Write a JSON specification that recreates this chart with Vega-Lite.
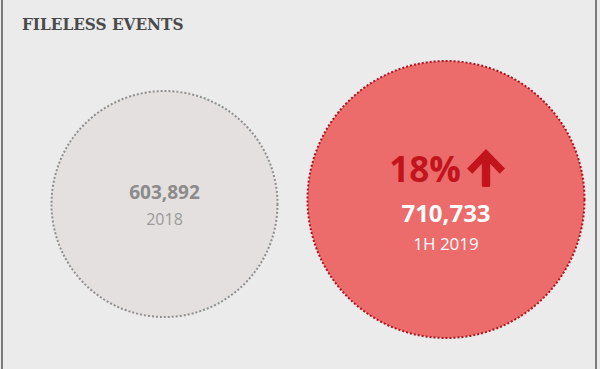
{
  "$schema": "https://vega.github.io/schema/vega-lite/v6.json",
  "width": 600,
  "height": 369,
  "autosize": "none",
  "padding": 0,
  "background": "#ebebeb",
  "config": {"view": {"stroke": null}},
  "title": {
    "text": "FILELESS EVENTS",
    "anchor": "start",
    "orient": "top",
    "frame": "group",
    "offset": -35,
    "dx": 22,
    "font": "DejaVu Serif Condensed, DejaVu Serif",
    "fontSize": 17,
    "fontWeight": "bold",
    "color": "#4a4a4a"
  },
  "layer": [
    {
      "data": {"values": [{"edge": "left"}, {"edge": "right"}]},
      "mark": {"type": "rule", "color": "#7a7a7a", "strokeWidth": 2},
      "encoding": {
        "x": {"field": "edge", "type": "nominal", "scale": {"type": "point", "domain": ["left", "right"], "range": [2, 596], "padding": 0}, "axis": null}
      }
    },
    {
      "data": {"values": [
        {"period": "2018", "value": 603892, "change": null},
        {"period": "1H 2019", "value": 710733, "change": 0.18}
      ]},
      "encoding": {
        "x": {"field": "period", "type": "nominal", "scale": {"type": "point", "domain": ["2018", "1H 2019"], "range": [164.5, 446], "padding": 0}, "axis": null},
        "y": {"field": "period", "type": "nominal", "scale": {"type": "point", "domain": ["2018", "1H 2019"], "range": [204, 199.5], "padding": 0}, "axis": null}
      },
      "layer": [
        {
          "mark": {"type": "point", "shape": "circle", "filled": true, "opacity": 1, "strokeWidth": 2, "strokeDash": [2, 2]},
          "encoding": {
            "size": {"field": "value", "type": "quantitative", "scale": {"domain": [603892, 710733], "range": [51076, 76729], "zero": false}, "legend": null},
            "fill": {"field": "period", "type": "nominal", "scale": {"domain": ["2018", "1H 2019"], "range": ["#e3e0df", "#ec6b6b"]}, "legend": null},
            "stroke": {"field": "period", "type": "nominal", "scale": {"domain": ["2018", "1H 2019"], "range": ["#8f8f8f", "#b0101c"]}, "legend": null}
          }
        },
        {
          "transform": [{"filter": "datum.period == '2018'"}],
          "mark": {"type": "text", "font": "Open Sans", "fontWeight": "bold", "fontSize": 19, "fill": "#8b8b8b", "baseline": "alphabetic", "align": "center", "dy": -5.5},
          "encoding": {"text": {"field": "value", "type": "quantitative", "format": ","}}
        },
        {
          "transform": [{"filter": "datum.period == '2018'"}],
          "mark": {"type": "text", "font": "Open Sans", "fontSize": 16, "fill": "#9a9a9a", "baseline": "alphabetic", "align": "center", "dy": 21},
          "encoding": {"text": {"field": "period", "type": "nominal"}}
        },
        {
          "transform": [{"filter": "datum.period == '1H 2019'"}],
          "mark": {"type": "text", "font": "Open Sans", "fontWeight": "bold", "fontSize": 35, "fill": "#c2141c", "baseline": "alphabetic", "align": "center", "dy": -17.5, "dx": -21},
          "encoding": {"text": {"field": "change", "type": "quantitative", "format": ".0%"}}
        },
        {
          "transform": [{"filter": "datum.period == '1H 2019'"}],
          "mark": {"type": "point", "filled": true, "opacity": 1, "fill": "#c2141c", "strokeWidth": 0, "size": 1444, "xOffset": 40, "yOffset": -31.5,
            "shape": "M0,-1 L1,0.02 L0.72,0.3 L0.22,-0.22 L0.22,0.92 Q0.22,1 0.14,1 L-0.14,1 Q-0.22,1 -0.22,0.92 L-0.22,-0.22 L-0.72,0.3 L-1,0.02 Z"}
        },
        {
          "transform": [{"filter": "datum.period == '1H 2019'"}],
          "mark": {"type": "text", "font": "Open Sans", "fontWeight": "bold", "fontSize": 24, "fill": "#ffffff", "baseline": "alphabetic", "align": "center", "dy": 22.5},
          "encoding": {"text": {"field": "value", "type": "quantitative", "format": ","}}
        },
        {
          "transform": [{"filter": "datum.period == '1H 2019'"}],
          "mark": {"type": "text", "font": "Open Sans", "fontSize": 17, "fill": "#ffffff", "baseline": "alphabetic", "align": "center", "dy": 50},
          "encoding": {"text": {"field": "period", "type": "nominal"}}
        }
      ]
    }
  ],
  "resolve": {"scale": {"x": "independent"}}
}
